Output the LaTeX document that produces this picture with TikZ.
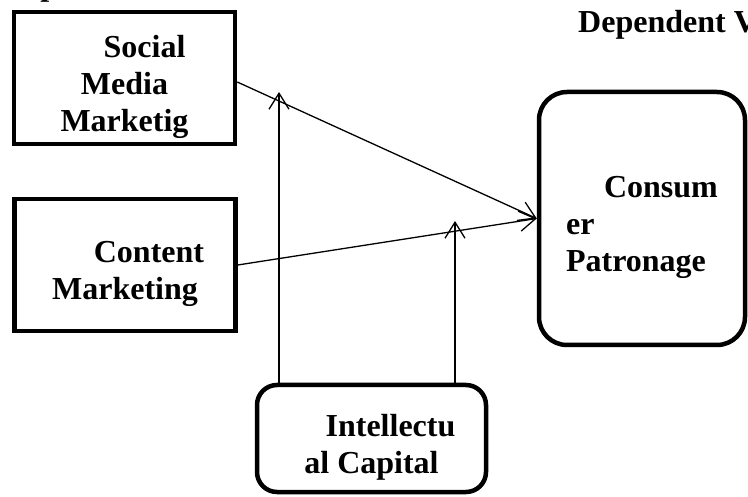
\documentclass[tikz,border=0pt]{standalone}
\usepackage{fontspec}
\setmainfont{Liberation Serif}
\usetikzlibrary{positioning}
\usetikzlibrary{arrows.meta}
\newcommand{\boxstrut}{\rule{0pt}{40pt}}

\begin{document}
\begin{tikzpicture}[
x=1pt, y=-1pt,
squarednode/.style={rectangle, draw=black, line width=4.5pt, inner sep=0pt, align=center, font=\bfseries\fontsize{32}{37}\selectfont, minimum width=221pt, minimum height=132pt},
roundnode/.style={rectangle, rounded corners=20pt, draw=black, line width=4.5pt, inner sep=0pt, font=\bfseries\fontsize{32}{37}\selectfont},
heading/.style={font=\bfseries\fontsize{32}{37}\selectfont, inner sep=0pt, anchor=base west},
link/.style={line width=1.3pt, -{Straight Barb[length=16pt,width=20pt]}},
]
\useasboundingbox (0,0) rectangle (748,497);
%Nodes
\node[heading]          (iv)    at (-22,-4)     {Independent Variables};
\node[heading]          (dv)    at (578,33)     {Dependent Variable};
\node[squarednode]      (smm)   at (124.5,78)   {\boxstrut\hspace*{40pt}Social\\Media\\Marketig};
\node[squarednode]      (cm)    at (125,265)    {\boxstrut\hspace*{48pt}Content\\Marketing};
\node[roundnode, rounded corners=28pt, align=left, minimum width=206pt, minimum height=253pt]
                        (cp)    at (642,218.5)  {\boxstrut\hspace*{38pt}Consum\\er\\Patronage};
\node[roundnode, align=center, minimum width=229pt, minimum height=107pt]
                        (ic)    at (371.5,438.5) {\boxstrut\hspace*{38pt}Intellectu\\al Capital};
\coordinate (tip1) at (279,92);
\coordinate (tip2) at (455,221);

%Lines
\draw[link] ([yshift=-4pt]smm.east) -- (cp.west);
\draw[link] (cm.east) -- (cp.west);
\draw[link] (ic.north -| tip1) -- (tip1);
\draw[link] (ic.north -| tip2) -- (tip2);
\end{tikzpicture}
\end{document}
